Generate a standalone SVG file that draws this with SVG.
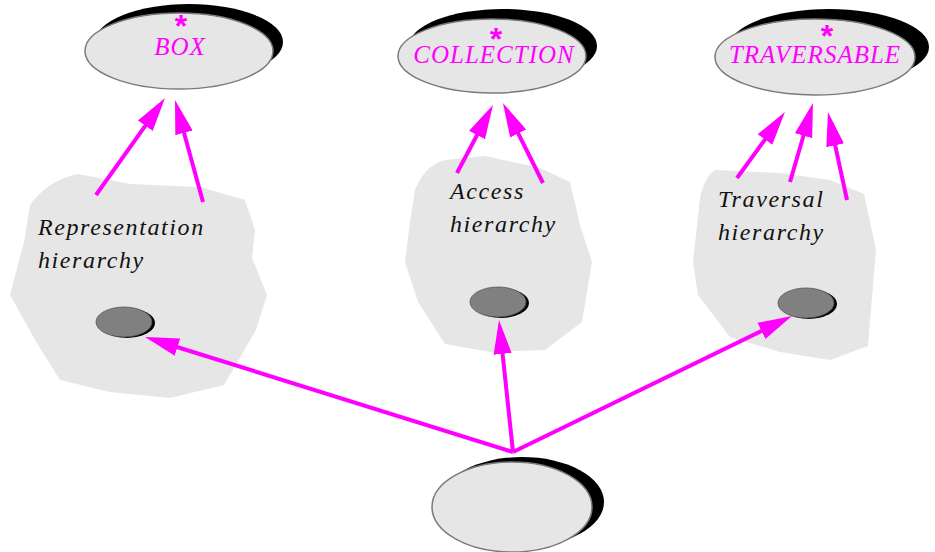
<svg xmlns="http://www.w3.org/2000/svg" width="935" height="552" viewBox="0 0 935 552">
  <style>
    .shadow { fill: #000000; }
    .oval { fill: #e6e6e6; stroke: #7a7a7a; stroke-width: 1.5; }
    .blob { fill: #e6e6e6; stroke: none; }
    .dot { fill: #808080; stroke: #555555; stroke-width: 0.8; }
    .dotshadow { fill: #000000; }
    .cls { font-family: "Liberation Serif", "Times New Roman", serif; font-style: italic; font-size: 25px; fill: #ff00ff; letter-spacing: 1px; text-anchor: middle; }
    .star { font-family: "Liberation Sans", Arial, sans-serif; font-style: normal; font-weight: bold; font-size: 32px; letter-spacing: 0; }
    .note { font-family: "Liberation Serif", "Times New Roman", serif; font-style: italic; font-size: 24px; fill: #111111; letter-spacing: 1.6px; }
    .link { stroke: #ff00ff; stroke-width: 4; fill: none; marker-end: url(#head); }
  </style>
  <defs>
    <marker id="head" markerUnits="userSpaceOnUse" markerWidth="34" markerHeight="20" viewBox="0 0 34 20" refX="14" refY="10" orient="auto">
      <path d="M0,1 L34,10 L0,19 Z" fill="#ff00ff"/>
    </marker>
  </defs>

  <!-- cluster backgrounds -->
  <g id="cluster-representation">
    <path class="blob" d="M30,205 Q48,180 78,174 L130,184 L200,187 L245,200 L255,230 L252,258 L267,295 L256,330 L224,385 L170,398 L110,392 L60,380 L38,345 L10,295 L24,242 Z"/>
    <text class="note" x="38" y="235">Representation</text>
    <text class="note" x="38" y="268">hierarchy</text>
  </g>
  <g id="cluster-access">
    <path class="blob" d="M415,190 Q425,165 445,160 L485,156 L540,168 L570,182 L580,225 L592,262 L582,322 L545,350 L490,352 L445,344 L418,302 L405,262 L410,222 Z"/>
    <text class="note" x="450" y="199">Access</text>
    <text class="note" x="450" y="232">hierarchy</text>
  </g>
  <g id="cluster-traversal">
    <path class="blob" d="M700,198 Q705,176 715,170 L780,173 L830,180 L864,194 L876,250 L873,285 L868,346 L830,360 L780,352 L730,337 L698,295 L693,262 Z"/>
    <text class="note" x="718" y="207">Traversal</text>
    <text class="note" x="718" y="240">hierarchy</text>
  </g>

  <!-- inner objects -->
  <g id="obj-representation">
    <ellipse class="dotshadow" cx="127" cy="323" rx="28" ry="15"/>
    <ellipse class="dot" cx="124" cy="322" rx="28" ry="15"/>
  </g>
  <g id="obj-access">
    <ellipse class="dotshadow" cx="501" cy="303" rx="28" ry="15"/>
    <ellipse class="dot" cx="498" cy="302" rx="28" ry="15"/>
  </g>
  <g id="obj-traversal">
    <ellipse class="dotshadow" cx="809" cy="304" rx="28" ry="15"/>
    <ellipse class="dot" cx="806" cy="303" rx="28" ry="15"/>
  </g>

  <!-- deferred classes: star marks a deferred class -->
  <g id="box">
    <ellipse class="shadow" cx="189" cy="42" rx="94" ry="38"/>
    <ellipse class="oval" cx="179" cy="51" rx="94" ry="38"/>
    <text class="cls"><tspan class="star" x="181" y="37">*</tspan><tspan x="180" y="55">BOX</tspan></text>
  </g>
  <g id="collection">
    <ellipse class="shadow" cx="503" cy="46" rx="94" ry="37"/>
    <ellipse class="oval" cx="492" cy="56" rx="94" ry="37"/>
    <text class="cls"><tspan class="star" x="496" y="50">*</tspan><tspan x="494" y="63">COLLECTION</tspan></text>
  </g>
  <g id="traversable">
    <ellipse class="shadow" cx="829" cy="47" rx="100" ry="38"/>
    <ellipse class="oval" cx="815" cy="57" rx="100" ry="38"/>
    <text class="cls"><tspan class="star" x="827" y="47">*</tspan><tspan x="815" y="63">TRAVERSABLE</tspan></text>
  </g>

  <!-- concrete class -->
  <g id="collection-impl">
    <ellipse class="shadow" cx="522" cy="502" rx="82" ry="45"/>
    <ellipse class="oval" cx="512" cy="507" rx="80" ry="45"/>
  </g>

  <!-- connectors -->
  <g id="connectors">
    <line class="link" x1="96" y1="195" x2="153.4" y2="114.3"/>
    <line class="link" x1="203" y1="202" x2="180.3" y2="119.3"/>
    <line class="link" x1="457" y1="173" x2="483.6" y2="122.7"/>
    <line class="link" x1="543" y1="183" x2="511.9" y2="120.9"/>
    <line class="link" x1="737" y1="178" x2="773.2" y2="128.2"/>
    <line class="link" x1="790" y1="182" x2="807.4" y2="122.2"/>
    <line class="link" x1="847" y1="200" x2="832.2" y2="131.6"/>
    <line class="link" x1="513" y1="452" x2="164.1" y2="343"/>
    <line class="link" x1="513" y1="452" x2="501.1" y2="339.9"/>
    <line class="link" x1="513" y1="452" x2="774" y2="324.8"/>
  </g>
</svg>
